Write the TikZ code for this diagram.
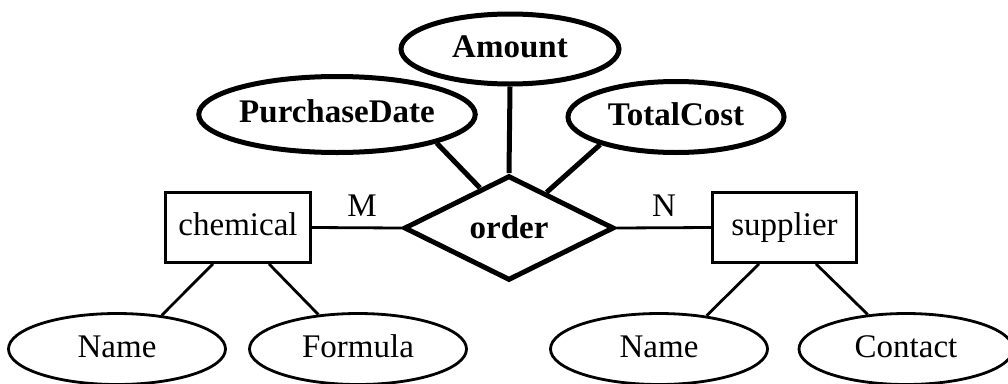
\documentclass[tikz,border=0pt]{standalone}
\usepackage{fontspec}
\setmainfont{Liberation Serif}
\usetikzlibrary{shapes.geometric,calc}
\newcommand{\erfont}{\fontsize{33}{40}\selectfont}
\tikzset{
  thickln/.style={line width=5pt},
  thinln/.style={line width=2.8pt},
  txt/.style={text height=23pt, text depth=7pt},
  boldattr/.style={ellipse, draw, thickln, inner sep=0pt, txt, font=\erfont\bfseries},
  attr/.style={ellipse, draw, thinln, inner sep=0pt, txt, minimum width=217pt, minimum height=71pt},
  entity/.style={rectangle, draw, thinln, inner sep=0pt, txt, minimum width=145pt, minimum height=70pt},
  rel/.style={diamond, draw, thickln, inner sep=0pt, minimum width=210pt, minimum height=103pt, font=\erfont\bfseries, line join=miter},
  card/.style={inner sep=0pt, txt}
}
\begin{document}
\begin{tikzpicture}[x=1pt,y=-1pt,font=\erfont]
\useasboundingbox (0,0) rectangle (1008,383);
% relationship
\node[rel, text height=23pt, text depth=3pt] (order) at (509,228) {order};
% relationship attributes
\node[boldattr, minimum width=218pt, minimum height=70pt] (amount) at (510,49) {Amount};
\node[boldattr, minimum width=242pt, minimum height=76pt] (pdate) at (337,114.5) {PurchaseDate};
\node[boldattr, minimum width=216pt, minimum height=71pt] (tcost) at (676,117) {TotalCost};
% entities
\node[entity] (chem) at (238,227.5) {chemical};
\node[entity, minimum width=144pt] (supp) at (784.5,227.5) {supplier};
% entity attributes
\node[attr] (cname) at (117,349) {Name};
\node[attr] (formula) at (358,349) {Formula};
\node[attr] (sname) at (659,349) {Name};
\node[attr, minimum width=214pt] (contact) at (906,349) {Contact};
% cardinalities
\node[card] (m) at (362,208) {M};
\node[card] (n) at (664,208) {N};
% connectors
\draw[thinln] (chem.east) -- (order.west);
\draw[thinln] (order.east) -- (supp.west);
\draw[thickln] (amount.south) -- (order.north);
\draw[thickln] (pdate.-16.3) -- ($(order.west)!0.73!(order.north)$);
\draw[thickln] (tcost.-160.7) -- ($(order.north)!0.35!(order.east)$);
\draw[thinln] ([xshift=-25pt]chem.south) -- (cname.37.3);
\draw[thinln] ([xshift=31pt]chem.south) -- (formula.139.5);
\draw[thinln] ([xshift=-25.5pt]supp.south) -- (sname.35);
\draw[thinln] ([xshift=31.5pt]supp.south) -- (contact.138.8);
\end{tikzpicture}
\end{document}
